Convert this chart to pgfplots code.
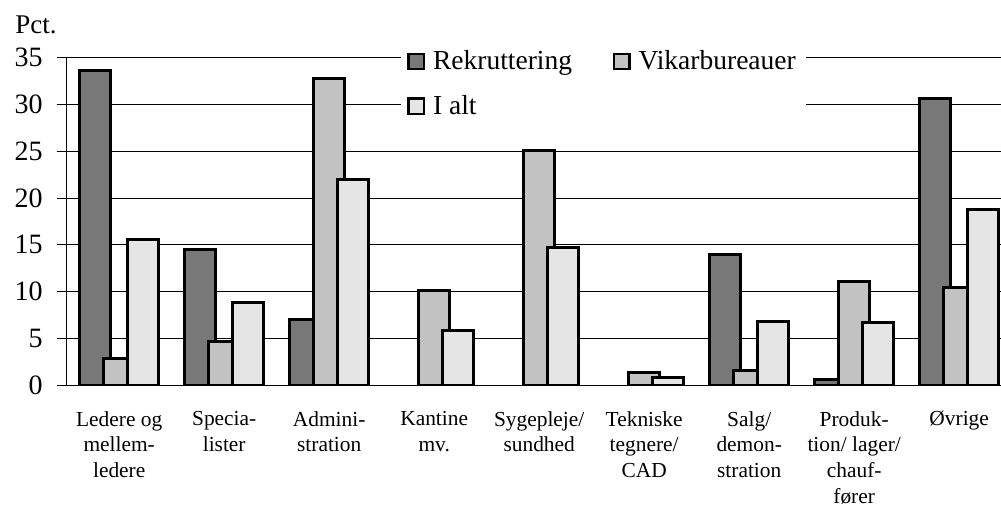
\documentclass[border=0pt]{standalone}
\usepackage{fontspec}
\setmainfont{Liberation Serif}
\usepackage{pgfplots}
\pgfplotsset{compat=1.18}
\definecolor{rekr}{gray}{0.47}
\definecolor{vikar}{gray}{0.76}
\definecolor{ialt}{gray}{0.90}
\begin{document}
\begin{tikzpicture}
\begin{axis}[
  at={(0pt,0pt)}, anchor=south west,
  scale only axis,
  width=472.5pt, height=163.65pt,
  xmin=-0.5, xmax=8.5, ymin=0, ymax=35,
  axis x line*=bottom, axis y line*=left,
  axis line style={-, black, line width=0.5pt},
  ytick={0,5,...,35},
  ymajorgrids, grid style={black, line width=0.5pt},
  tick align=outside, major tick length=5pt,
  ytick style={black, line width=0.5pt},
  xtick={0,...,8}, xtick style={draw=none},
  xticklabels={{Ledere og\\mellem-\\ledere},{Specia-\\lister},{Admini-\\stration},{Kantine\\mv.},{Sygepleje/\\sundhed},{Tekniske\\tegnere/\\CAD},{Salg/\\demon-\\stration},{Produk-\\tion/ lager/\\chauf-\\fører},{Øvrige}},
  xticklabel style={align=center, font=\fontsize{10.7}{12.9}\selectfont, yshift=-4.5pt},
  yticklabel style={font=\fontsize{14}{16}\selectfont\rmfamily, xshift=-3.5pt},
  /pgf/number format/assume math mode=true,
  ybar, bar width=0.295,
  legend columns=2,
  legend style={at={(0.3538,1.0605)}, anchor=north west, draw=none, fill=white,
    font=\fontsize{13.75}{16}\selectfont, inner xsep=3pt, inner ysep=4pt,
    /tikz/every odd column/.append style={column sep=2pt},
    /tikz/every even column/.append style={column sep=18.5pt},
    row sep=7.3pt},
  legend cell align=left,
  legend image code/.code={\draw[#1,line width=1.2pt] (0pt,-3.8pt) rectangle (7.6pt,3.8pt);},
]
\addplot[fill=rekr, draw=black, line width=1.5pt, bar shift=-0.228] coordinates {(0,33.6) (1,14.5) (2,7.0) (6,14.0) (7,0.6) (8,30.6)};
\addplot[fill=vikar, draw=black, line width=1.5pt, bar shift=0] coordinates {(0,2.8) (1,4.7) (2,32.8) (3,10.1) (4,25.1) (5,1.4) (6,1.6) (7,11.1) (8,10.4)};
\addplot[fill=ialt, draw=black, line width=1.5pt, bar shift=0.228] coordinates {(0,15.6) (1,8.8) (2,22.0) (3,5.8) (4,14.7) (5,0.85) (6,6.8) (7,6.7) (8,18.8)};
\legend{Rekruttering, Vikarbureauer, I alt}
\end{axis}
\node[anchor=base west, inner sep=0pt, font=\fontsize{13.5}{15}\selectfont] at (-25.85pt,176.05pt) {Pct.};
\pgfresetboundingbox
\path[use as bounding box] (-33.35pt,-59.95pt) rectangle (467.15pt,192.55pt);
\end{tikzpicture}
\end{document}
